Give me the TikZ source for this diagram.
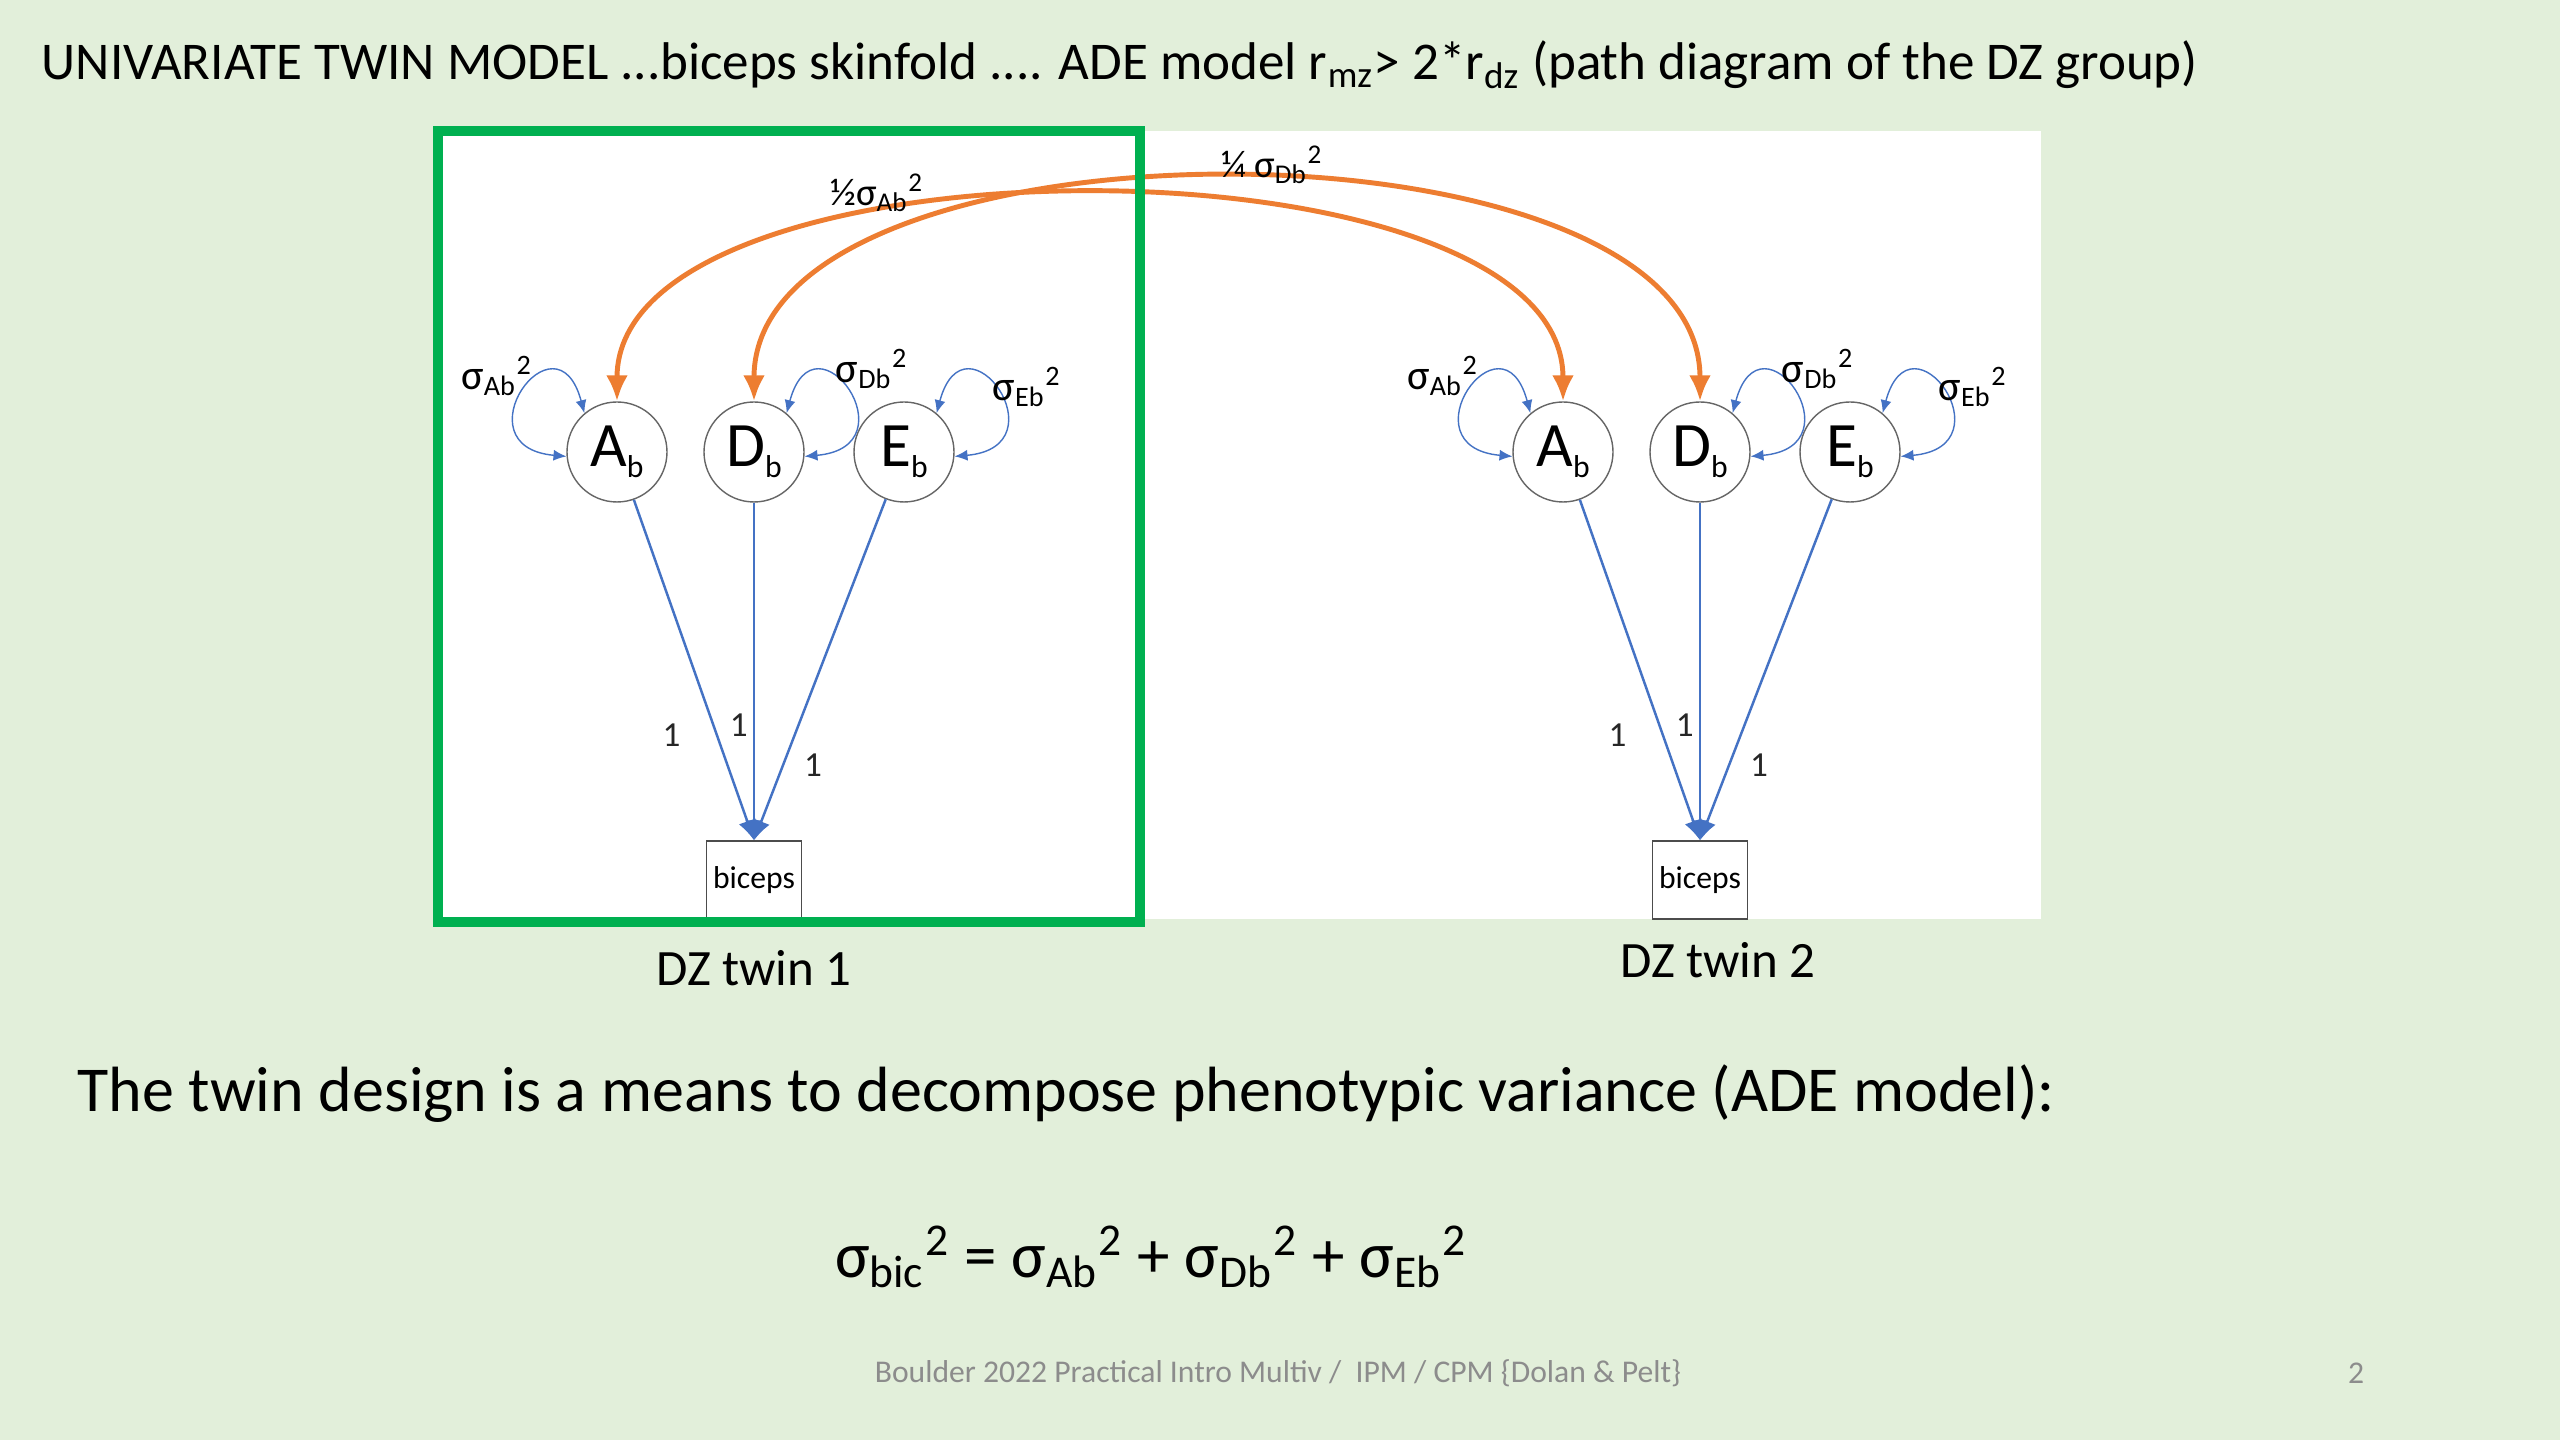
\documentclass[tikz,border=0pt]{standalone}
\usepackage{fontspec}
\setmainfont{Carlito}
\usetikzlibrary{arrows.meta,positioning}

\definecolor{slidebg}{HTML}{E2EFDA}
\definecolor{pathblue}{HTML}{4472C4}
\definecolor{covorange}{HTML}{ED7D31}
\definecolor{framegreen}{HTML}{00B050}
\definecolor{footgray}{HTML}{8C8C8C}

\newcommand{\vc}[1]{σ\textsubscript{#1}\textsuperscript{2}}
\newcommand{\lv}[1]{#1\raisebox{-.35ex}{\fontsize{9}{9}\selectfont b}}

\begin{document}
\begin{tikzpicture}[every node/.style={inner sep=0pt},
  latent/.style={draw=black!60,fill=white,circle,minimum size=1cm,font=\fontsize{18}{20}\selectfont},
  manifest/.style={draw=black!70,fill=white,minimum width=.95cm,minimum height=.78cm,font=\fontsize{9}{10}\selectfont},
  loadpath/.style={pathblue,line width=.7pt,-{Latex[length=2mm,width=1.8mm]}},
  varloop/.style={pathblue,line width=.4pt,{Latex[length=1.3mm,width=1.1mm]}-{Latex[length=1.3mm,width=1.1mm]}},
  covpath/.style={covorange,line width=1.4pt,{Latex[length=2.6mm,width=2.2mm]}-{Latex[length=2.6mm,width=2.2mm]}},
  one/.style={text=black!85,font=\fontsize{10}{12}\selectfont},
  varlab/.style={font=\fontsize{12}{14}\selectfont}]
  \fill[slidebg] (0,0) rectangle (25.6,14.4);
  \useasboundingbox (0,0) rectangle (25.6,14.4);

  \node[anchor=west,font=\fontsize{15.1}{18}\selectfont] (title) at (.41,13.75)
    {UNIVARIATE TWIN MODEL ...biceps skinfold .... ADE model r\textsubscript{mz}> 2*r\textsubscript{dz} (path diagram of the DZ group)};

  % white panel behind both twins
  \fill[white] (4.38,5.21) rectangle (20.41,13.09);

  \foreach \t/\dx in {1/0,2/9.46}{
    \begin{scope}[xshift=\dx cm]
      \node[latent] (A\t) at (6.17,9.88) {\lv{A}};
      \node[latent] (D\t) at (7.54,9.88) {\lv{D}};
      \node[latent] (E\t) at (9.04,9.88) {\lv{E}};
      \node[manifest] (b\t) at (7.54,5.60) {biceps};
      \draw[loadpath] (A\t) -- (b\t.north) node[one,pos=.69,left=3.5mm] (la\t) {1};
      \draw[loadpath] (D\t) -- (b\t.north) node[one,pos=.66,left=.5mm] (ld\t) {1};
      \draw[loadpath] (E\t) -- (b\t.north) node[one,pos=.78,right=2mm] (le\t) {1};
      \draw[varloop] (A\t.130) .. controls +(105:1.1) and +(175:1.1) .. (A\t.185);
      \draw[varloop] (D\t.50) .. controls +(75:1.1) and +(5:1.1) .. (D\t.355);
      \draw[varloop] (E\t.50) .. controls +(75:1.1) and +(5:1.1) .. (E\t.355);
      \node[varlab] (vA\t) at (4.97,10.64) {\vc{Ab}};
      \node[varlab] (vD\t) at (8.72,10.71) {\vc{Db}};
      \node[varlab] (vE\t) at (10.27,10.53) {\vc{Eb}};
    \end{scope}
  }

  % DZ covariances
  \draw[covpath] (A1.north) to[out=90,in=90,looseness=.74] (A2.north);
  \draw[covpath] (D1.north) to[out=90,in=90,looseness=.8] (D2.north);
  \node[font=\fontsize{11}{13}\selectfont] (covA) at (8.77,12.47) {½σ\textsubscript{Ab}\textsuperscript{2}};
  \node[font=\fontsize{11}{13}\selectfont] (covD) at (12.72,12.75) {¼ σ\textsubscript{Db}\textsuperscript{2}};

  \draw[framegreen,line width=.1cm] (4.38,5.18) rectangle (11.40,13.09);

  \node[font=\fontsize{14.5}{16}\selectfont] (dz1) at (7.54,4.72) {DZ twin 1};
  \node[font=\fontsize{14.5}{16}\selectfont] (dz2) at (17.18,4.80) {DZ twin 2};

  \node[anchor=west,font=\fontsize{18.2}{22}\selectfont] (design) at (.77,3.46)
    {The twin design is a means to decompose phenotypic variance (ADE model):};
  \node[font=\fontsize{18.5}{22}\selectfont] (formula) at (11.51,1.83) {\vc{bic} = \vc{Ab} + \vc{Db} + \vc{Eb}};

  \node[font=\fontsize{9}{11}\selectfont,text=footgray] (footer) at (12.78,.67)
    {Boulder 2022 Practical Intro Multiv /\ \ IPM / CPM \{Dolan \& Pelt\}};
  \node[font=\fontsize{9}{11}\selectfont,text=footgray] (pageno) at (23.56,.67) {2};
\end{tikzpicture}
\end{document}
